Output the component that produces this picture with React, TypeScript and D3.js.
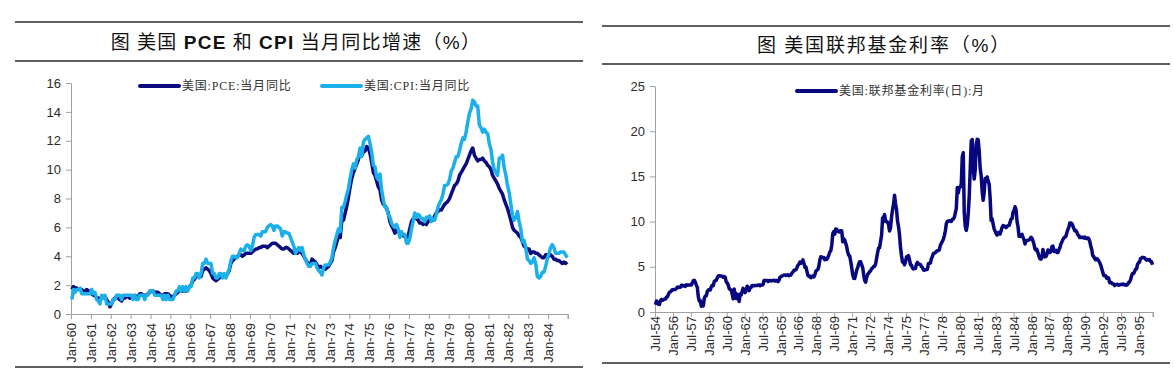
import React, { useEffect, useRef } from 'react';
import * as d3 from 'd3';

// US PCE price index YoY, monthly Jan-1960 .. Dec-1984
const pceYoY = [
  1.7, 1.9, 1.8, 1.8, 1.7, 1.7, 1.7, 1.5, 1.6, 1.7, 1.6, 1.5, // 1960
  1.4, 1.3, 1.3, 1.1, 1.1, 1.0, 1.2, 1.1, 1.2, 1.0, 0.8, 0.5, // 1961
  0.7, 1.0, 1.1, 1.2, 1.1, 1.0, 0.9, 1.1, 1.1, 1.2, 1.2, 1.1, // 1962
  1.2, 1.2, 1.3, 1.2, 1.2, 1.4, 1.4, 1.3, 1.3, 1.3, 1.4, 1.5, // 1963
  1.6, 1.6, 1.5, 1.5, 1.5, 1.4, 1.3, 1.3, 1.4, 1.4, 1.4, 1.3, // 1964
  1.2, 1.2, 1.3, 1.4, 1.5, 1.7, 1.6, 1.6, 1.6, 1.6, 1.7, 1.9, // 1965
  2.0, 2.3, 2.4, 2.6, 2.6, 2.6, 2.6, 3.0, 3.1, 3.2, 3.1, 3.0, // 1966
  2.8, 2.5, 2.4, 2.3, 2.4, 2.5, 2.6, 2.6, 2.6, 2.7, 2.8, 3.0, // 1967
  3.5, 3.7, 3.8, 3.9, 4.0, 4.1, 4.1, 4.0, 4.1, 4.2, 4.2, 4.2, // 1968
  4.2, 4.3, 4.4, 4.5, 4.5, 4.6, 4.6, 4.7, 4.7, 4.7, 4.6, 4.7, // 1969
  4.8, 4.9, 4.9, 4.9, 4.8, 4.7, 4.6, 4.5, 4.5, 4.6, 4.6, 4.5, // 1970
  4.4, 4.3, 4.2, 4.2, 4.2, 4.3, 4.3, 4.2, 4.0, 3.8, 3.6, 3.5, // 1971
  3.4, 3.8, 3.7, 3.6, 3.4, 3.2, 3.3, 3.2, 3.2, 3.1, 3.2, 3.3, // 1972
  3.5, 3.7, 4.3, 4.6, 5.0, 5.4, 5.3, 6.5, 6.5, 7.0, 7.5, 8.1, // 1973
  8.8, 9.4, 9.8, 10.1, 10.4, 10.7, 11.3, 11.0, 11.2, 11.3, 11.6, 11.5, // 1974
  11.1, 10.5, 9.8, 9.6, 9.2, 8.8, 8.6, 7.9, 7.6, 7.5, 7.3, 7.0, // 1975
  6.4, 6.1, 5.9, 5.6, 5.8, 5.7, 5.6, 5.5, 5.4, 5.4, 5.3, 5.4, // 1976
  5.9, 6.4, 6.6, 6.7, 6.6, 6.5, 6.3, 6.3, 6.2, 6.3, 6.2, 6.4, // 1977
  6.5, 6.5, 6.5, 6.8, 7.0, 7.1, 7.2, 7.2, 7.4, 7.6, 7.7, 7.8, // 1978
  8.0, 8.3, 8.6, 8.9, 9.0, 9.2, 9.6, 9.8, 10.0, 10.2, 10.4, 10.7, // 1979
  11.0, 11.3, 11.5, 11.0, 10.8, 10.6, 10.7, 10.7, 10.8, 10.6, 10.5, 10.3, // 1980
  10.2, 10.0, 9.6, 9.4, 9.2, 9.0, 8.7, 8.5, 8.3, 7.9, 7.6, 7.3, // 1981
  6.9, 6.5, 6.0, 5.8, 5.7, 5.6, 5.4, 5.3, 5.0, 4.7, 4.6, 4.5, // 1982
  4.5, 4.2, 4.3, 4.3, 4.2, 4.2, 4.1, 4.0, 3.9, 3.9, 4.1, 4.1, // 1983
  4.0, 4.1, 4.0, 3.8, 3.8, 3.7, 3.7, 3.6, 3.5, 3.6, 3.5, 3.6, // 1984
];

// US CPI YoY, monthly Jan-1960 .. Dec-1984
const cpiYoY = [
  1.0, 1.7, 1.5, 1.7, 1.7, 1.8, 1.4, 1.4, 1.4, 1.4, 1.4, 1.4, // 1960
  1.7, 1.4, 1.5, 1.0, 0.9, 0.7, 1.3, 1.1, 1.3, 0.7, 0.7, 0.7, // 1961
  0.7, 1.0, 1.0, 1.3, 1.3, 1.3, 1.0, 1.3, 1.3, 1.3, 1.3, 1.3, // 1962
  1.3, 1.0, 1.3, 1.0, 1.0, 1.3, 1.3, 1.3, 1.0, 1.3, 1.3, 1.6, // 1963
  1.6, 1.6, 1.3, 1.3, 1.3, 1.3, 1.3, 1.0, 1.3, 1.0, 1.3, 1.0, // 1964
  1.0, 1.0, 1.3, 1.6, 1.6, 1.9, 1.6, 1.9, 1.6, 1.9, 1.6, 1.9, // 1965
  1.9, 2.5, 2.5, 2.8, 2.8, 2.5, 2.8, 3.5, 3.5, 3.8, 3.5, 3.5, // 1966
  3.5, 2.8, 2.8, 2.5, 2.5, 2.8, 2.8, 2.5, 2.8, 2.5, 2.8, 3.1, // 1967
  3.7, 4.0, 4.0, 3.9, 3.9, 4.2, 4.5, 4.4, 4.4, 4.7, 4.8, 4.7, // 1968
  4.4, 4.7, 5.3, 5.5, 5.5, 5.5, 5.4, 5.7, 5.7, 5.7, 6.0, 6.1, // 1969
  6.2, 6.1, 5.8, 6.1, 6.1, 6.0, 5.9, 5.4, 5.7, 5.7, 5.6, 5.6, // 1970
  5.3, 5.0, 4.7, 4.2, 4.4, 4.6, 4.4, 4.6, 4.1, 3.8, 3.5, 3.3, // 1971
  3.3, 3.5, 3.5, 3.5, 3.2, 3.0, 2.9, 2.7, 3.2, 3.4, 3.4, 3.4, // 1972
  3.6, 3.9, 4.6, 5.1, 5.5, 5.9, 5.7, 7.4, 7.4, 7.8, 8.3, 8.7, // 1973
  9.4, 10.0, 10.4, 10.1, 10.7, 10.9, 11.5, 10.9, 11.9, 12.1, 12.2, 12.3, // 1974
  11.8, 11.2, 10.3, 10.2, 9.5, 9.3, 9.7, 8.6, 7.9, 7.4, 7.4, 6.9, // 1975
  6.7, 6.3, 6.1, 6.0, 6.2, 5.9, 5.3, 5.7, 5.5, 5.5, 4.9, 4.9, // 1976
  5.2, 5.9, 6.4, 7.0, 6.7, 6.9, 6.8, 6.6, 6.6, 6.4, 6.7, 6.7, // 1977
  6.8, 6.4, 6.6, 6.5, 6.9, 7.4, 7.7, 7.9, 8.3, 8.9, 8.9, 9.0, // 1978
  9.3, 9.9, 10.1, 10.5, 10.9, 10.9, 11.3, 11.8, 12.2, 12.1, 12.6, 13.3, // 1979
  13.9, 14.2, 14.8, 14.7, 14.4, 14.4, 13.1, 12.9, 12.6, 12.8, 12.6, 12.5, // 1980
  11.8, 11.4, 10.5, 10.0, 9.8, 9.6, 10.8, 10.8, 11.0, 10.1, 9.6, 8.9, // 1981
  8.4, 7.6, 6.8, 6.5, 6.7, 7.1, 6.4, 5.9, 5.0, 5.1, 4.6, 3.8, // 1982
  3.7, 3.5, 3.6, 3.9, 3.5, 2.6, 2.5, 2.6, 2.9, 2.9, 3.3, 3.8, // 1983
  4.2, 4.6, 4.8, 4.6, 4.2, 4.2, 4.2, 4.3, 4.3, 4.3, 4.1, 3.9, // 1984
];

const leftTickLabels = [
  'Jan-60', 'Jan-61', 'Jan-62', 'Jan-63', 'Jan-64', 'Jan-65', 'Jan-66', 'Jan-67', 'Jan-68',
  'Jan-69', 'Jan-70', 'Jan-71', 'Jan-72', 'Jan-73', 'Jan-74', 'Jan-75', 'Jan-76', 'Jan-77',
  'Jan-78', 'Jan-79', 'Jan-80', 'Jan-81', 'Jan-82', 'Jan-83', 'Jan-84',
];
const leftYTicks = [0, 2, 4, 6, 8, 10, 12, 14, 16];

// US effective federal funds rate, monthly Jul-1954 .. Feb-1996
const fedFunds = [
  0.80, 1.22, 1.06, 0.85, 0.83, 1.28, // 1954 H2
  1.39, 1.29, 1.35, 1.43, 1.43, 1.64, 1.68, 1.96, 2.18, 2.24, 2.35, 2.48, // 1955
  2.45, 2.50, 2.50, 2.62, 2.75, 2.71, 2.75, 2.73, 2.95, 2.96, 2.88, 2.94, // 1956
  2.84, 3.00, 2.96, 3.00, 3.00, 3.00, 2.99, 3.24, 3.47, 3.50, 3.28, 2.98, // 1957
  2.72, 1.67, 1.20, 1.26, 0.63, 0.93, 0.68, 1.53, 1.76, 1.80, 2.27, 2.42, // 1958
  2.48, 2.43, 2.80, 2.96, 2.90, 3.39, 3.47, 3.50, 3.76, 3.98, 4.00, 3.99, // 1959
  3.99, 3.97, 3.84, 3.92, 3.85, 3.32, 3.23, 2.98, 2.60, 2.47, 2.44, 1.98, // 1960
  1.45, 2.54, 2.02, 1.49, 1.98, 1.73, 1.17, 2.00, 1.88, 2.26, 2.62, 2.33, // 1961
  2.15, 2.37, 2.85, 2.78, 2.36, 2.68, 2.71, 2.93, 2.90, 2.90, 2.94, 2.93, // 1962
  2.92, 3.00, 2.98, 2.90, 3.00, 2.99, 3.02, 3.49, 3.48, 3.50, 3.48, 3.38, // 1963
  3.48, 3.48, 3.43, 3.47, 3.50, 3.50, 3.42, 3.50, 3.45, 3.36, 3.52, 3.85, // 1964
  3.90, 3.98, 4.04, 4.09, 4.10, 4.04, 4.09, 4.12, 4.01, 4.08, 4.10, 4.32, // 1965
  4.42, 4.60, 4.65, 4.67, 4.90, 5.17, 5.30, 5.53, 5.40, 5.53, 5.76, 5.40, // 1966
  4.94, 5.00, 4.53, 4.05, 3.94, 3.98, 3.79, 3.90, 3.99, 3.88, 4.13, 4.51, // 1967
  4.61, 4.71, 5.05, 5.76, 6.11, 6.07, 6.02, 6.03, 5.78, 5.91, 5.82, 6.02, // 1968
  6.30, 6.64, 6.79, 7.41, 8.67, 8.90, 8.61, 9.19, 9.15, 9.00, 8.85, 8.97, // 1969
  8.98, 8.98, 7.76, 8.10, 7.95, 7.61, 7.21, 6.61, 6.29, 6.20, 5.60, 4.90, // 1970
  4.14, 3.72, 3.71, 4.16, 4.63, 4.91, 5.31, 5.56, 5.55, 5.20, 4.91, 4.14, // 1971
  3.50, 3.29, 3.83, 4.17, 4.27, 4.46, 4.55, 4.80, 4.87, 5.04, 5.06, 5.33, // 1972
  5.94, 6.58, 7.09, 7.12, 7.84, 8.49, 10.40, 10.50, 10.78, 10.01, 10.03, 9.95, // 1973
  9.65, 8.97, 9.35, 10.51, 11.31, 11.93, 12.92, 12.01, 11.34, 10.06, 9.45, 8.53, // 1974
  7.13, 6.24, 5.54, 5.49, 5.22, 5.55, 6.10, 6.14, 6.24, 5.82, 5.22, 5.20, // 1975
  4.87, 4.77, 4.84, 4.82, 5.29, 5.48, 5.31, 5.29, 5.25, 5.02, 4.95, 4.65, // 1976
  4.61, 4.68, 4.69, 4.73, 5.35, 5.39, 5.42, 5.90, 6.14, 6.47, 6.51, 6.56, // 1977
  6.70, 6.78, 6.79, 6.89, 7.36, 7.60, 7.81, 8.04, 8.45, 8.96, 9.76, 10.03, // 1978
  10.07, 10.06, 10.09, 10.01, 10.24, 10.29, 10.47, 10.94, 11.43, 13.77, 13.18, 13.78, // 1979
  13.82, 14.13, 17.19, 17.61, 10.98, 9.47, 9.03, 9.61, 10.87, 12.81, 15.85, 18.90, // 1980
  19.08, 15.93, 14.70, 15.72, 18.52, 19.10, 19.04, 17.82, 15.87, 15.08, 13.31, 12.37, // 1981
  13.22, 14.78, 14.68, 14.94, 14.45, 14.15, 12.59, 10.12, 10.31, 9.71, 9.20, 8.95, // 1982
  8.68, 8.51, 8.77, 8.80, 8.63, 8.98, 9.37, 9.56, 9.45, 9.48, 9.34, 9.47, // 1983
  9.56, 9.59, 9.91, 10.29, 10.32, 11.06, 11.23, 11.64, 11.30, 9.99, 9.43, 8.38, // 1984
  8.35, 8.50, 8.58, 8.27, 7.97, 7.53, 7.88, 7.90, 7.92, 7.99, 8.05, 8.27, // 1985
  8.14, 7.86, 7.48, 6.99, 6.85, 6.92, 6.56, 6.17, 5.89, 5.85, 6.04, 6.91, // 1986
  6.43, 6.10, 6.13, 6.37, 6.85, 6.73, 6.58, 6.73, 7.22, 7.29, 6.69, 6.77, // 1987
  6.83, 6.58, 6.58, 6.87, 7.09, 7.51, 7.75, 8.01, 8.19, 8.30, 8.35, 8.76, // 1988
  9.12, 9.36, 9.85, 9.84, 9.81, 9.53, 9.24, 8.99, 9.02, 8.84, 8.55, 8.45, // 1989
  8.23, 8.24, 8.28, 8.26, 8.18, 8.29, 8.15, 8.13, 8.20, 8.11, 7.81, 7.31, // 1990
  6.91, 6.25, 6.12, 5.91, 5.78, 5.90, 5.82, 5.66, 5.45, 5.21, 4.81, 4.43, // 1991
  4.03, 4.06, 3.98, 3.73, 3.82, 3.76, 3.25, 3.30, 3.22, 3.10, 3.09, 2.92, // 1992
  3.02, 3.03, 3.07, 2.96, 3.00, 3.04, 3.06, 3.03, 3.09, 2.99, 3.02, 2.96, // 1993
  3.05, 3.25, 3.34, 3.56, 4.01, 4.25, 4.26, 4.47, 4.73, 4.76, 5.29, 5.45, // 1994
  5.53, 5.92, 5.98, 6.05, 6.01, 6.00, 5.85, 5.74, 5.80, 5.76, 5.80, 5.60, // 1995
  5.56, 5.22, // 1996
];

const rightTickLabels = [
  'Jul-54', 'Jan-56', 'Jul-57', 'Jan-59', 'Jul-60', 'Jan-62', 'Jul-63', 'Jan-65', 'Jul-66',
  'Jan-68', 'Jul-69', 'Jan-71', 'Jul-72', 'Jan-74', 'Jul-75', 'Jan-77', 'Jul-78', 'Jan-80',
  'Jul-81', 'Jan-83', 'Jul-84', 'Jan-86', 'Jul-87', 'Jan-89', 'Jul-90', 'Jan-92', 'Jul-93',
  'Jan-95',
];
const rightYTicks = [0, 5, 10, 15, 20, 25];

const W = 1174;
const H = 371;
const CJK = '"Liberation Serif", "Noto Sans CJK SC", serif';
const LATIN = '"Liberation Sans", Arial, sans-serif';
const PCE_COLOR = '#0c0c7c';
const CPI_COLOR = '#1cb0ea';
const FED_COLOR = '#07077f';

export default function App() {
  const svgRef = useRef<SVGSVGElement>(null);

  useEffect(() => {
    if (!svgRef.current) return;
    const svg = d3.select(svgRef.current);
    svg.selectAll('*').remove();

    // panel frames (title rules + bottom rule)
    const frames = [
      { x1: 15, x2: 583, top: 22, mid: 61, bottom: 367 },
      { x1: 602, x2: 1170, top: 26, mid: 64, bottom: 363 },
    ];
    frames.forEach(f => {
      [f.top, f.mid, f.bottom].forEach(y => {
        svg.append('line')
          .attr('x1', f.x1).attr('x2', f.x2)
          .attr('y1', y).attr('y2', y)
          .attr('stroke', '#5f5f5f')
          .attr('stroke-width', 2);
      });
    });

    // titles
    const t1 = svg.append('text')
      .attr('x', 296).attr('y', 42)
      .attr('text-anchor', 'middle')
      .attr('dominant-baseline', 'central')
      .attr('font-size', 19)
      .attr('letter-spacing', 1.3)
      .attr('fill', '#111');
    t1.append('tspan').attr('font-family', CJK).text('图  美国 ');
    t1.append('tspan').attr('font-family', LATIN).attr('font-weight', 700).text('PCE');
    t1.append('tspan').attr('font-family', CJK).text(' 和 ');
    t1.append('tspan').attr('font-family', LATIN).attr('font-weight', 700).text('CPI');
    t1.append('tspan').attr('font-family', CJK).text(' 当月同比增速（');
    t1.append('tspan').attr('font-family', LATIN).text('%');
    t1.append('tspan').attr('font-family', CJK).text('）');

    const t2 = svg.append('text')
      .attr('x', 884).attr('y', 45)
      .attr('text-anchor', 'middle')
      .attr('dominant-baseline', 'central')
      .attr('font-size', 19)
      .attr('letter-spacing', 1.8)
      .attr('fill', '#111');
    t2.append('tspan').attr('font-family', CJK).text('图  美国联邦基金利率（');
    t2.append('tspan').attr('font-family', LATIN).text('%');
    t2.append('tspan').attr('font-family', CJK).text('）');

    const drawAxes = (
      xScale: d3.ScaleLinear<number, number>,
      yScale: d3.ScaleLinear<number, number>,
      yTicks: number[],
      labels: string[],
      step: number,
      labelOffset: number,
    ) => {
      const [x0, x1] = xScale.range();
      const y0 = yScale(0);

      const yAxis = svg.append('g')
        .attr('transform', `translate(${x0},0)`)
        .call(d3.axisLeft(yScale).tickValues(yTicks).tickSize(5).tickSizeOuter(0).tickPadding(5));
      yAxis.select('.domain').attr('stroke', '#a0a0a0');
      yAxis.selectAll('.tick line').attr('stroke', '#a0a0a0');
      yAxis.selectAll('.tick text')
        .attr('fill', '#2b2b2b')
        .attr('font-size', 13)
        .attr('font-family', LATIN);

      const tickIdx = labels.map((_, i) => i * step);
      const xAxis = svg.append('g')
        .attr('transform', `translate(0,${y0})`)
        .call(d3.axisBottom(xScale)
          .tickValues(tickIdx)
          .tickFormat((d, i) => labels[i])
          .tickSize(5)
          .tickSizeOuter(5));
      xAxis.select('.domain').attr('stroke', '#a0a0a0');
      xAxis.selectAll('.tick line').attr('stroke', '#a0a0a0');
      xAxis.selectAll('.tick text')
        .attr('fill', '#2b2b2b')
        .attr('font-size', 13)
        .attr('font-family', LATIN)
        .attr('text-anchor', 'end')
        .attr('transform', 'rotate(-90)')
        .attr('x', -labelOffset)
        .attr('y', 0)
        .attr('dy', '0.35em');
      // closing tick at the end of the category axis
      xAxis.append('line')
        .attr('x1', x1).attr('x2', x1)
        .attr('y1', 0).attr('y2', 5)
        .attr('stroke', '#a0a0a0');
    };

    // left chart: PCE & CPI
    const xL = d3.scaleLinear().domain([0, 300]).range([71, 568]);
    const yL = d3.scaleLinear().domain([0, 16]).range([314, 83]);
    drawAxes(xL, yL, leftYTicks, leftTickLabels, 12, 9);

    const lineL = d3.line<number>()
      .x((_, i) => xL(i + 0.5))
      .y(d => yL(d));

    svg.append('path')
      .datum(pceYoY)
      .attr('d', lineL)
      .attr('fill', 'none')
      .attr('stroke', PCE_COLOR)
      .attr('stroke-width', 3.5)
      .attr('stroke-linejoin', 'round');
    svg.append('path')
      .datum(cpiYoY)
      .attr('d', lineL)
      .attr('fill', 'none')
      .attr('stroke', CPI_COLOR)
      .attr('stroke-width', 3.5)
      .attr('stroke-linejoin', 'round');

    // right chart: fed funds
    const xR = d3.scaleLinear().domain([0, 500]).range([655, 1153]);
    const yR = d3.scaleLinear().domain([0, 25]).range([312, 86]);
    drawAxes(xR, yR, rightYTicks, rightTickLabels, 18, 4);

    const lineR = d3.line<number>()
      .x((_, i) => xR(i + 0.5))
      .y(d => yR(d));
    svg.append('path')
      .datum(fedFunds)
      .attr('d', lineR)
      .attr('fill', 'none')
      .attr('stroke', FED_COLOR)
      .attr('stroke-width', 3.5)
      .attr('stroke-linejoin', 'round');

    // legends
    const legends = [
      { x: 140, y: 86, color: PCE_COLOR, label: '美国:PCE:当月同比' },
      { x: 322, y: 86, color: CPI_COLOR, label: '美国:CPI:当月同比' },
      { x: 797, y: 91, color: FED_COLOR, label: '美国:联邦基金利率(日):月' },
    ];
    legends.forEach(l => {
      svg.append('line')
        .attr('x1', l.x).attr('x2', l.x + 39)
        .attr('y1', l.y).attr('y2', l.y)
        .attr('stroke', l.color)
        .attr('stroke-width', 4)
        .attr('stroke-linecap', 'round');
      svg.append('text')
        .attr('x', l.x + 42).attr('y', l.y)
        .attr('dominant-baseline', 'central')
        .attr('font-size', 12)
        .attr('letter-spacing', 0.8)
        .attr('font-family', CJK)
        .attr('fill', '#333')
        .text(l.label);
    });
  }, []);

  return (
    <svg
      ref={svgRef}
      width={W}
      height={H}
      style={{ position: 'absolute', left: 0, top: 0, background: '#fff' }}
    />
  );
}
